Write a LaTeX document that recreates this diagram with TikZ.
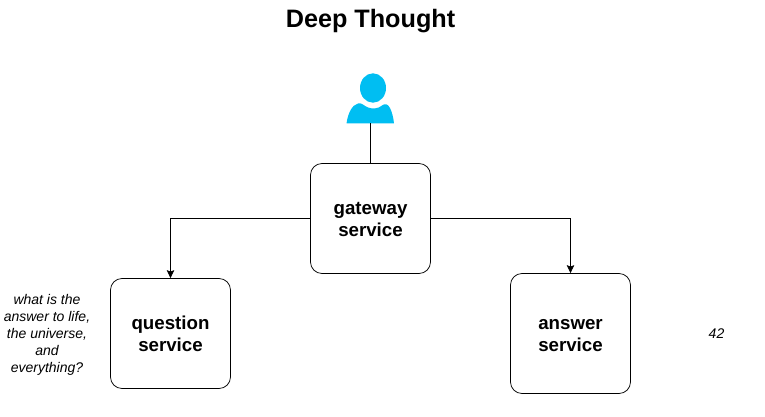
\documentclass[tikz,border=0pt]{standalone}
\usepackage{fontspec}
\setmainfont{Liberation Sans}
\usetikzlibrary{arrows.meta}
\definecolor{usercol}{HTML}{00BEF2}
\tikzset{
 svc/.style={draw=black,line width=0.75pt,rounded corners=11.5pt,minimum width=120pt,minimum height=110pt,inner sep=0pt,align=center,font=\fontsize{18.7}{22}\selectfont\bfseries,text=black,fill=white},
 note/.style={align=center,font=\fontsize{14}{17}\selectfont\itshape,text=black,inner sep=0pt},
 conn/.style={draw=black,line width=0.75pt},
 arr/.style={conn,-{Stealth[length=8pt,width=7.5pt,inset=1.5pt]}}
}
\begin{document}
\begin{tikzpicture}[x=1pt,y=-1pt]
\useasboundingbox (0,0) rectangle (765,417);
\node[font=\fontsize{25.2}{28}\selectfont\bfseries,inner sep=0pt] (title) at (370.5,21) {Deep Thought};
\node[svc] (gw) at (370.5,218.5) {\rule{0pt}{14pt}gateway\\service};
\node[svc] (q) at (170.5,333.5) {\rule{0pt}{14pt}question\\service};
\node[svc,minimum height=120pt] (a) at (570.5,333.5) {\rule{0pt}{14pt}answer\\service};
\node[note] (qt) at (47,335) {what is the\\answer to life,\\the universe,\\and\\everything?};
\node[note] (at) at (716.5,334) {42};
% user icon
\coordinate (u) at (370.5,123.5);
\fill[usercol] (373,88) circle [x radius=13,y radius=14.7];
\fill[usercol] (346.5,123.5) .. controls (348,113) and (352,105) .. (358,103.5) .. controls (362,102.5) and (364,106) .. (368,107.5) .. controls (372,109) and (378,109) .. (382,105.5) .. controls (385,103) and (388,104) .. (390,108) .. controls (392,112) and (393.5,118) .. (394,123.5) -- cycle;
\draw[conn] (u) -- (gw.north);
\draw[arr] (gw.west) -| (q.north);
\draw[arr] (gw.east) -| (a.north);
\end{tikzpicture}
\end{document}
